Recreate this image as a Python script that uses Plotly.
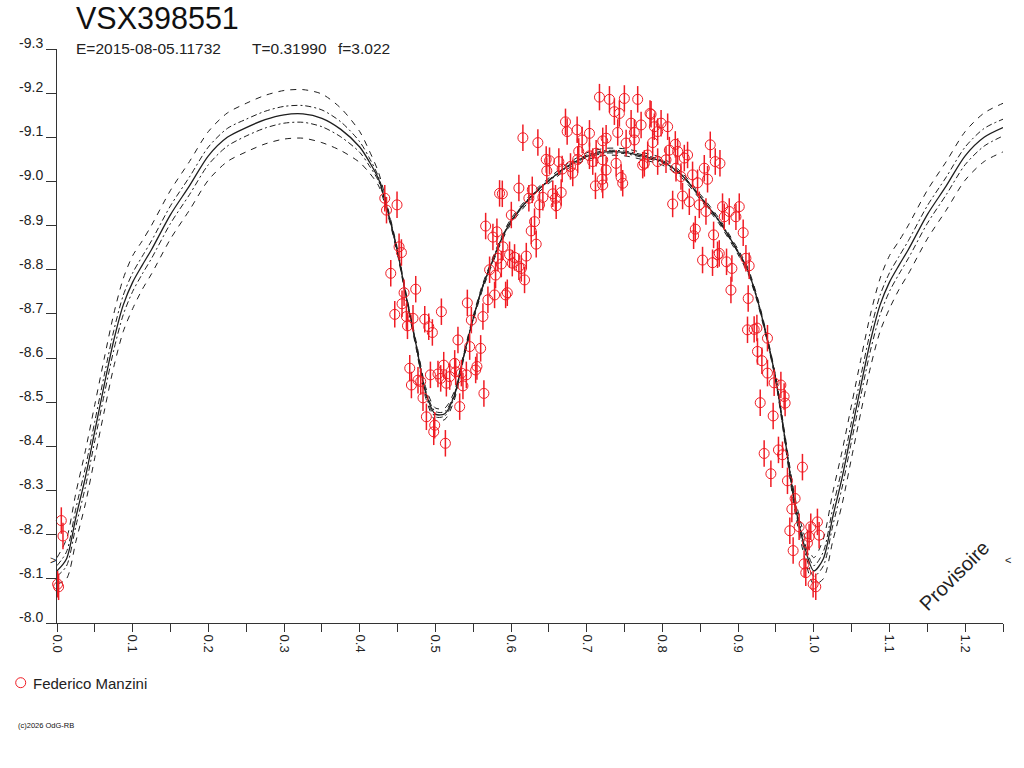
import plotly.graph_objects as go

# ---------------- data ----------------
star_name = "VSX398551"
epoch_text = "E=2015-08-05.11732"
period_text = "T=0.31990"
f_text = "f=3.022"
observer = "Federico Manzini"
copyright_text = "(c)2026 OdG-RB"
watermark = "Provisoire"
limit_mag = -8.143

# observations (phase, magnitude)
obs_phase = [
    0.0057, 0.0079, 0.0008, 0.0021,
    0.4331, 0.4354, 0.4493, 0.4520, 0.4551, 0.4410, 0.4740, 0.4586, 0.4559, 0.4463,
    0.4617, 0.4704, 0.4631, 0.4859, 0.4912, 0.4960, 0.5079, 0.4661, 0.4683, 0.4770,
    0.4806, 0.4836, 0.4934, 0.5034, 0.5110, 0.5070, 0.5145, 0.5189, 0.5255, 0.5298,
    0.5268, 0.5343, 0.5364, 0.5409, 0.5422, 0.5475, 0.5453, 0.5598, 0.5532, 0.5549,
    0.5641, 0.5321, 0.4881, 0.4991, 0.4978, 0.5132, 0.5664, 0.5760, 0.5813, 0.5716,
    0.5795, 0.5694, 0.5782, 0.5628, 0.5848,
    0.6156, 0.6354, 0.6719, 0.6741, 0.6873, 0.7036, 0.6939, 0.7211, 0.7256, 0.6464,
    0.6508, 0.6472, 0.6631, 0.6675, 0.6785, 0.6815, 0.6894, 0.6881, 0.7036, 0.7079,
    0.7124, 0.7211, 0.7256, 0.7203, 0.7115, 0.7211, 0.6103, 0.5884, 0.6280, 0.6235,
    0.6420, 0.6551, 0.6587, 0.6662, 0.6376, 0.6596, 0.6003, 0.6310, 0.6266, 0.6332,
    0.5826, 0.5892, 0.5980, 0.6046, 0.6201, 0.5871, 0.6016, 0.6103, 0.6135, 0.6178,
    0.5950, 0.5928,
    0.7168, 0.7300, 0.7497, 0.7673, 0.7365, 0.7431, 0.7836, 0.7850, 0.7586, 0.7718,
    0.7893, 0.7982, 0.8069, 0.7409, 0.7629, 0.7937, 0.7629, 0.7520, 0.7871, 0.8170,
    0.8632, 0.8091, 0.8201, 0.7805, 0.8332, 0.8289, 0.8047, 0.7761, 0.7739, 0.7937,
    0.8698, 0.8760, 0.7388, 0.8179, 0.8553, 0.8398, 0.8245, 0.7454, 0.8596, 0.7475,
    0.8464, 0.8266, 0.8135, 0.8355, 0.8487, 0.8575, 0.8794, 0.8883, 0.9015, 0.8817,
    0.8971, 0.8434, 0.8412, 0.8676, 0.9067, 0.8530, 0.8662, 0.8728, 0.8847, 0.8918,
    0.9103, 0.8905, 0.9133,
    0.8751, 0.9146, 0.9124, 0.9212, 0.9248, 0.9388, 0.9256, 0.9314, 0.9388, 0.9476,
    0.9565, 0.9608, 0.9621, 0.9292, 0.9463, 0.9344, 0.9533, 0.9586, 0.9850, 0.9433,
    0.9652, 0.9753, 0.9710, 0.9806, 0.9683, 0.9960, 1.0048, 0.9938, 1.0070, 0.9916,
    0.9727, 0.9872, 0.9894, 0.9991, 1.0026,
]
obs_mag = [
    -8.232, -8.197, -8.088, -8.082,
    -8.962, -8.935, -8.947, -8.852, -8.839, -8.792, -8.756, -8.748, -8.723, -8.699,
    -8.694, -8.690, -8.673, -8.688, -8.671, -8.658, -8.705, -8.577, -8.539, -8.550,
    -8.547, -8.510, -8.562, -8.564, -8.584, -8.554, -8.543, -8.558, -8.588, -8.641,
    -8.569, -8.566, -8.537, -8.562, -8.725, -8.686, -8.626, -8.622, -8.573, -8.581,
    -8.520, -8.490, -8.467, -8.448, -8.433, -8.407, -8.899, -8.874, -8.886, -8.800,
    -8.788, -8.732, -8.743, -8.694, -8.973,
    -9.099, -9.088, -9.135, -9.113, -9.117, -9.109, -9.094, -9.092, -9.098, -9.050,
    -9.047, -9.024, -9.045, -9.028, -9.034, -9.019, -9.068, -9.050, -9.058, -9.045,
    -9.064, -9.049, -9.026, -9.005, -8.990, -8.992, -8.985, -8.972, -8.981, -8.962,
    -8.964, -8.972, -8.962, -8.975, -8.947, -8.945, -8.924, -8.909, -8.888, -8.858,
    -8.826, -8.852, -8.834, -8.828, -8.831, -8.813, -8.815, -8.807, -8.803, -8.777,
    -8.748, -8.743,
    -9.191, -9.186, -9.188, -9.186, -9.158, -9.154, -9.154, -9.152, -9.132, -9.128,
    -9.124, -9.132, -9.124, -9.111, -9.111, -9.113, -9.094, -9.087, -9.088, -9.084,
    -9.083, -9.071, -9.068, -9.060, -9.060, -9.053, -9.049, -9.041, -9.037, -9.045,
    -9.045, -9.041, -9.041, -9.030, -9.030, -9.015, -9.011, -9.009, -9.005, -8.996,
    -8.997, -8.967, -8.949, -8.954, -8.947, -8.932, -8.943, -8.932, -8.943, -8.920,
    -8.920, -8.892, -8.877, -8.879, -8.884, -8.822, -8.816, -8.834, -8.818, -8.803,
    -8.826, -8.754, -8.735,
    -8.837, -8.809, -8.664, -8.665, -8.668, -8.645, -8.615, -8.594, -8.566, -8.544,
    -8.539, -8.513, -8.498, -8.499, -8.469, -8.384, -8.392, -8.381, -8.353, -8.338,
    -8.322, -8.282, -8.258, -8.218, -8.209, -8.218, -8.229, -8.195, -8.199, -8.181,
    -8.164, -8.134, -8.114, -8.088, -8.082,
]
obs_err = 0.03

# model light curve (phase 0..1) and its uncertainty envelopes
model_phase = [0.0, 0.0125, 0.025, 0.0375, 0.05, 0.0625, 0.075, 0.0875, 0.1, 0.1125,
               0.125, 0.15, 0.175, 0.2, 0.225, 0.25, 0.275, 0.3, 0.325, 0.35,
               0.375, 0.4, 0.4125, 0.425, 0.4375, 0.45, 0.4625, 0.475, 0.4875, 0.5,
               0.5125, 0.525, 0.5375, 0.55, 0.5625, 0.575, 0.5875, 0.6, 0.625, 0.65,
               0.675, 0.7, 0.725, 0.75, 0.775, 0.8, 0.825, 0.85, 0.875, 0.9,
               0.9125, 0.925, 0.9375, 0.95, 0.9625, 0.975, 0.9875, 1.0]
model_mag = [-8.118, -8.145, -8.24, -8.33, -8.435, -8.54, -8.64, -8.72, -8.772, -8.81,
             -8.846, -8.925, -8.99, -9.058, -9.10, -9.122, -9.14, -9.151, -9.153, -9.143,
             -9.118, -9.078, -9.045, -9.005, -8.93, -8.84, -8.73, -8.626, -8.52, -8.473,
             -8.474, -8.515, -8.605, -8.69, -8.762, -8.818, -8.87, -8.91, -8.963, -9.002,
             -9.035, -9.057, -9.067, -9.066, -9.057, -9.045, -9.015, -8.965, -8.91, -8.84,
             -8.80, -8.735, -8.65, -8.55, -8.41, -8.27, -8.175, -8.118]
outer_spread = [0.03, 0.045, 0.055, 0.06, 0.06, 0.06, 0.06, 0.06, 0.06, 0.055,
                0.055, 0.055, 0.055, 0.055, 0.055, 0.055, 0.055, 0.055, 0.055, 0.055,
                0.048, 0.035, 0.025, 0.015, 0.008, 0.006, 0.006, 0.008, 0.012, 0.014,
                0.013, 0.010, 0.006, 0.006, 0.006, 0.006, 0.006, 0.006, 0.006, 0.006,
                0.006, 0.008, 0.008, 0.008, 0.008, 0.008, 0.006, 0.006, 0.006, 0.006,
                0.006, 0.006, 0.006, 0.006, 0.010, 0.016, 0.024, 0.03]
inner_spread = [0.012, 0.016, 0.02, 0.022, 0.022, 0.022, 0.022, 0.022, 0.021, 0.02,
                0.02, 0.02, 0.02, 0.02, 0.02, 0.019, 0.019, 0.019, 0.019, 0.019,
                0.017, 0.012, 0.009, 0.005, 0.003, 0.002, 0.002, 0.003, 0.005, 0.006,
                0.005, 0.004, 0.002, 0.002, 0.002, 0.002, 0.002, 0.002, 0.002, 0.002,
                0.002, 0.003, 0.003, 0.003, 0.003, 0.003, 0.002, 0.002, 0.002, 0.002,
                0.002, 0.002, 0.002, 0.002, 0.004, 0.006, 0.009, 0.012]
phase_extension = 0.25   # curve repeated up to phase 1.25

y_tick_vals = [-9.3, -9.2, -9.1, -9.0, -8.9, -8.8, -8.7, -8.6, -8.5, -8.4, -8.3, -8.2, -8.1, -8.0]
y_tick_text = ["-9.3", "-9.2", "-9.1", "-9.0", "-8.9", "-8.8", "-8.7", "-8.6", "-8.5",
               "-8.4", "-8.3", "-8.2", "-8.1", "-8.0"]
x_tick_vals = [0.0, 0.1, 0.2, 0.3, 0.4, 0.5, 0.6, 0.7, 0.8, 0.9, 1.0, 1.1, 1.2]
x_tick_text = ["0.0", "0.1", "0.2", "0.3", "0.4", "0.5", "0.6", "0.7", "0.8", "0.9",
               "1.0", "1.1", "1.2"]

# ---------------- build ----------------
ext_idx = [i for i, p in enumerate(model_phase) if 0 < p <= phase_extension]
full_phase = model_phase + [model_phase[i] + 1.0 for i in ext_idx]
full_mag = model_mag + [model_mag[i] for i in ext_idx]
full_outer = outer_spread + [outer_spread[i] for i in ext_idx]
full_inner = inner_spread + [inner_spread[i] for i in ext_idx]

INK = "#1e1e1e"
RED = "#f01c24"
FONT = "Liberation Sans, Arial, sans-serif"

fig = go.Figure()

curve_styles = [
    (-1, full_outer, "6px,6px"),
    (1, full_outer, "6px,6px"),
    (-1, full_inner, "6px,3px,2px,3px"),
    (1, full_inner, "6px,3px,2px,3px"),
]
for sign, spread, dash in curve_styles:
    fig.add_trace(go.Scatter(
        x=full_phase,
        y=[m + sign * s for m, s in zip(full_mag, spread)],
        mode="lines", line=dict(color=INK, width=1, dash=dash, shape="spline", smoothing=0.8),
        hoverinfo="skip", showlegend=False))
fig.add_trace(go.Scatter(
    x=full_phase, y=full_mag, mode="lines",
    line=dict(color=INK, width=1.3, shape="spline", smoothing=0.8),
    hoverinfo="skip", showlegend=False))

fig.add_trace(go.Scatter(
    x=obs_phase, y=obs_mag, mode="markers", name=observer,
    marker=dict(symbol="circle-open", size=10, color=RED, line=dict(width=1, color=RED)),
    error_y=dict(type="constant", value=obs_err, color=RED, thickness=1.5, width=0),
    cliponaxis=False, showlegend=False))

L, R, T, B = 57, 21, 49, 145
W, H = 1024, 768
pw, ph = W - L - R, H - T - B


def px(xp):
    return (xp - L) / pw


def py(yp):
    return (H - B - yp) / ph


annotations = [
    dict(text=star_name, x=px(74), y=py(18), xanchor="left", yanchor="middle",
         font=dict(size=30.5, color="#111", family=FONT)),
    dict(text=epoch_text, x=px(74), y=py(48.5), xanchor="left", yanchor="middle",
         font=dict(size=15.5, color="#222", family=FONT)),
    dict(text=period_text, x=px(250), y=py(48.5), xanchor="left", yanchor="middle",
         font=dict(size=15.5, color="#222", family=FONT)),
    dict(text=f_text, x=px(336), y=py(48.5), xanchor="left", yanchor="middle",
         font=dict(size=15.5, color="#222", family=FONT)),
    dict(text=observer, x=px(31), y=py(683), xanchor="left", yanchor="middle",
         font=dict(size=15, color="#222", family=FONT)),
    dict(text=copyright_text, x=px(16), y=py(725), xanchor="left", yanchor="middle",
         font=dict(size=7.5, color="#111", family=FONT)),
    dict(text=watermark, x=px(954), y=py(576), xanchor="center", yanchor="middle",
         textangle=-45, font=dict(size=20, color="#222", family=FONT)),
    dict(text=">", x=px(52.5), y=limit_mag, xref="paper", yref="y", xanchor="center",
         yanchor="middle", font=dict(size=11, color="#222", family=FONT)),
    dict(text="<", x=px(1008), y=limit_mag, xref="paper", yref="y", xanchor="center",
         yanchor="middle", font=dict(size=11, color="#222", family=FONT)),
]
for a in annotations:
    a.setdefault("xref", "paper")
    a.setdefault("yref", "paper")
    a["showarrow"] = False

shapes = [dict(type="circle", xref="paper", yref="paper", xsizemode="pixel", ysizemode="pixel",
               xanchor=px(20.7), yanchor=py(682.7), x0=-5, x1=5, y0=-5, y1=5,
               line=dict(color=RED, width=1))]

fig.update_layout(
    width=W, height=H,
    margin=dict(l=L, r=R, t=T, b=B),
    paper_bgcolor="white", plot_bgcolor="white",
    font=dict(family=FONT, color="#222"),
    showlegend=False,
    annotations=annotations,
    shapes=shapes,
    xaxis=dict(range=[0, 1.25], showgrid=False, zeroline=False,
               showline=True, linecolor="#333", linewidth=1,
               ticks="outside", ticklen=8, tickcolor="#333", tickwidth=1,
               tickvals=x_tick_vals, ticktext=x_tick_text, tickangle=90,
               tickfont=dict(size=13, color="#222", family=FONT),
               minor=dict(dtick=0.05, tick0=0, ticks="outside", ticklen=8, tickcolor="#333")),
    yaxis=dict(range=[-8.0, -9.3], showgrid=False, zeroline=False,
               showline=True, linecolor="#333", linewidth=1,
               ticks="outside", ticklen=10, tickcolor="#333", tickwidth=1,
               tickvals=y_tick_vals, ticktext=y_tick_text, ticklabelshift=6,
               tickfont=dict(size=14, color="#222", family=FONT)),
)

fig.write_html("out.html", config={"displayModeBar": False},
               post_script="document.body.style.margin='0';document.body.style.overflow='hidden';")
